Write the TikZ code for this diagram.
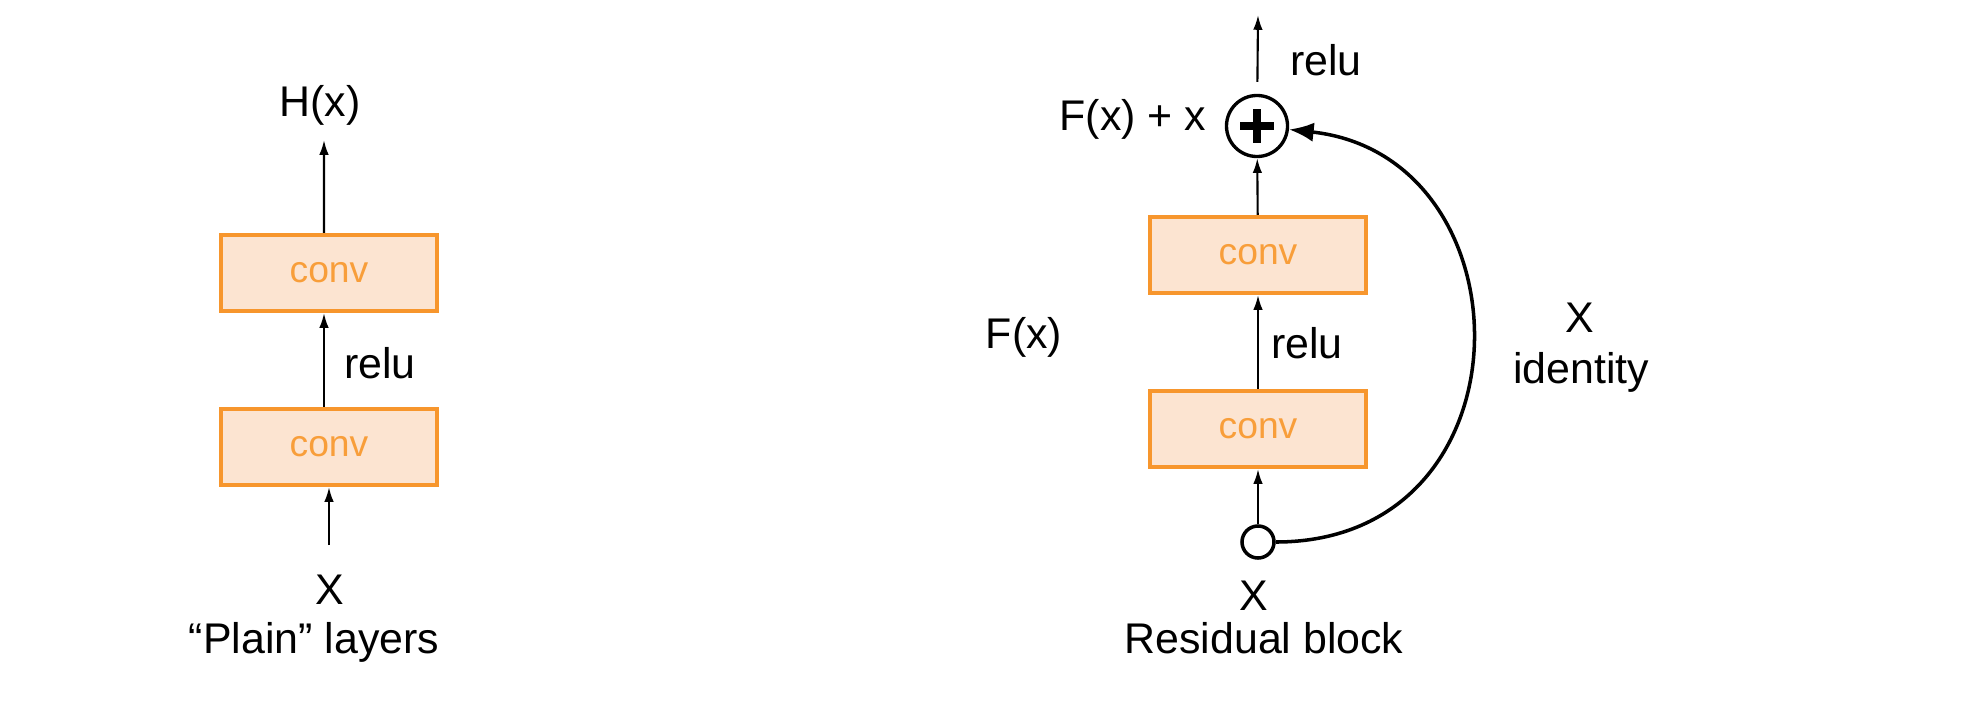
\documentclass[tikz,border=0pt]{standalone}
\usepackage{fontspec}
\setmainfont{Liberation Sans}
\usepackage{xcolor}
\usetikzlibrary{shapes,arrows,arrows.meta,positioning,calc}

\definecolor{convline}{RGB}{247,150,45}
\definecolor{convfill}{RGB}{252,228,209}
\definecolor{convtext}{RGB}{248,158,58}

\begin{document}
\begin{tikzpicture}[x=0.01cm, y=-0.01cm, every node/.style={font=\fontsize{12.2}{14.6}\selectfont}]
    % Стилі
    \tikzstyle{conv}=[rectangle, draw=convline, fill=convfill, line width=1.15pt, minimum width=2.15cm, minimum height=0.76cm, text=convtext, font=\fontsize{10.6}{12}\selectfont]
    \tikzstyle{arr}=[-{Latex[length=4.2pt,width=2.7pt]}, line width=0.6pt]
    \tikzstyle{lbl}=[anchor=base, inner sep=0pt]
    \tikzstyle{sumnode}=[circle, draw, line width=0.95pt, minimum size=0.61cm, inner sep=0pt]
    \tikzstyle{dotnode}=[circle, draw, fill=white, line width=1pt, minimum size=0.32cm, inner sep=0pt]

    \useasboundingbox (0,0) rectangle (1964,706);

    % Звичайні шари
    \node[lbl] (hx) at (320,116) {H(x)};
    \node[conv] (convb) at (329,273) {conv};
    \node[conv] (conva) at (329,447) {conv};
    \node[lbl] (relul) at (380,378) {relu};
    \node[lbl] (xl) at (330,604) {X};
    \node[lbl] (plain) at (314,653) {“Plain” layers};
    \coordinate (outl) at (324,140);
    \coordinate (inl) at (329,545);

    \draw[arr] (inl) -- (conva);
    \draw[arr] ([xshift=-0.05cm]conva.north) -- ([xshift=-0.05cm]convb.south);
    \draw[arr] ([xshift=-0.05cm]convb.north) -- (outl);

    % Залишковий блок
    \node[sumnode] (plus) at (1257,126) {};
    \node[conv] (convd) at (1258,255) {conv};
    \node[conv] (convc) at (1258,429) {conv};
    \node[dotnode] (xin) at (1258,542) {};
    \coordinate (outr) at (1258,15);

    \node[lbl] (relutop) at (1326,75) {relu};
    \node[lbl] (fxx) at (1133,130) {F(x) + x};
    \node[lbl] (fx) at (1024,348) {F(x)};
    \node[lbl] (relumid) at (1307,358) {relu};
    \node[lbl] (xr) at (1254,610) {X};
    \node[lbl] (resid) at (1264,653) {Residual block};
    \node[lbl] (xid) at (1580,332) {X};
    \node[lbl] (ident) at (1581,383) {identity};

    \draw[arr, shorten <=0.12cm] (plus) -- (outr);
    \draw[arr] (convd) -- (plus);
    \draw[arr] (convc) -- (convd);
    \draw[arr] (xin) -- (convc);
    \draw[line width=2.3pt] (plus.center) +(-17,0) -- +(17,0) (plus.center) +(0,-17) -- +(0,17);

    % Тотожний зв'язок
    \draw[line width=1pt, -{Latex[length=7pt,width=5.5pt]}] (xin) .. controls +(278,0) and +(276,30) .. (plus);
\end{tikzpicture}
\end{document}
